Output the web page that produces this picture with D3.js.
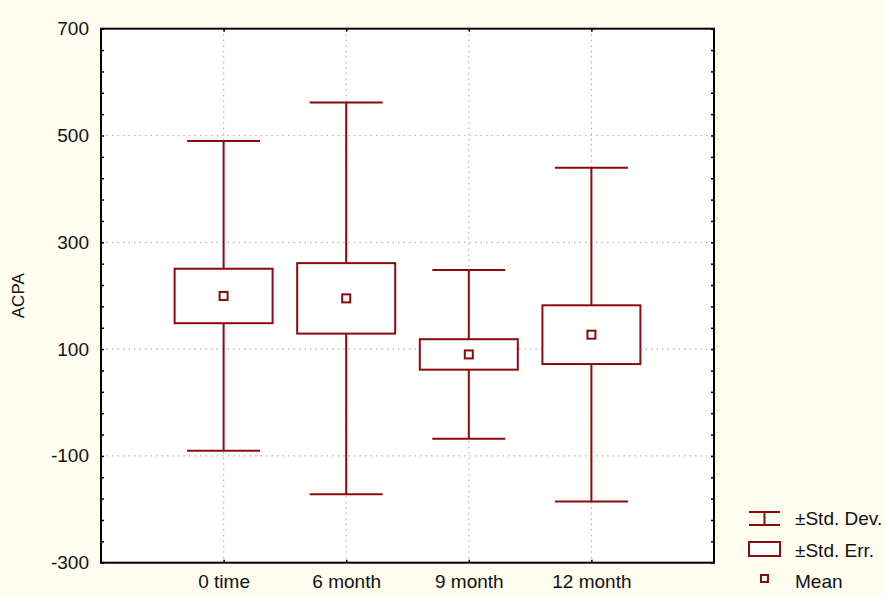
<!DOCTYPE html>
<html>
<head>
<meta charset="utf-8">
<script src="https://cdn.jsdelivr.net/npm/d3@7"></script>
<style>
  body { margin: 0; background: #fffcf0; }
  svg { display: block; font-family: "Liberation Sans", Arial, sans-serif; }
  .grid line { stroke: #b4b4b4; stroke-width: 1.2; stroke-dasharray: 1.5 4; }
  .ticks path { display: none; }
  .ticks line { stroke: #000; stroke-width: 1.5; }
  .labels path, .labels line { display: none; }
  .labels text { font-size: 19px; fill: #111; }
</style>
</head>
<body>
<svg id="chart" width="885" height="597"></svg>
<script>
// data
const categories = ['0 time', '6 month', '9 month', '12 month'];
const means      = [199.5, 195, 90, 127];
const stdErr     = [51, 66, 28.5, 55];
const stdDev     = [290, 367, 158, 312.5];
const yTicks     = [-300, -100, 100, 300, 500, 700];
const yMinor     = d3.range(-300, 701, 40);
const legendItems = ['\u00b1Std. Dev.', '\u00b1Std. Err.', 'Mean'];

const red = '#8b0a0a';
const plot = {left: 101, right: 714, top: 28.7, bottom: 562.7};

const svg = d3.select('#chart');
svg.append('rect').attr('width', 885).attr('height', 597).attr('fill', '#fffcf0');

const x = d3.scalePoint().domain(categories).range([plot.left, plot.right]).padding(1);
const y = d3.scaleLinear().domain([-300, 700]).range([plot.bottom, plot.top]);

svg.append('rect')
    .attr('x', plot.left).attr('y', plot.top)
    .attr('width', plot.right - plot.left).attr('height', plot.bottom - plot.top)
    .attr('fill', '#fff');

// dotted grid
const grid = svg.append('g').attr('class', 'grid');
grid.selectAll('.h').data(yTicks.slice(1, -1)).join('line')
    .attr('x1', plot.left).attr('x2', plot.right)
    .attr('y1', d => y(d)).attr('y2', d => y(d));
grid.selectAll('.v').data(categories).join('line')
    .attr('x1', d => x(d)).attr('x2', d => x(d))
    .attr('y1', plot.top).attr('y2', plot.bottom);

// inward ticks on all four sides
svg.append('g').attr('class', 'ticks').attr('transform', `translate(${plot.left},0)`)
    .call(d3.axisLeft(y).tickValues(yMinor).tickSize(-3).tickFormat(''));
svg.append('g').attr('class', 'ticks').attr('transform', `translate(${plot.right},0)`)
    .call(d3.axisRight(y).tickValues(yMinor).tickSize(-3).tickFormat(''));
svg.append('g').attr('class', 'ticks').attr('transform', `translate(0,${plot.bottom})`)
    .call(d3.axisBottom(x).tickSize(-3).tickFormat(''));
svg.append('g').attr('class', 'ticks').attr('transform', `translate(0,${plot.top})`)
    .call(d3.axisTop(x).tickSize(-3).tickFormat(''));

// tick labels (plain hyphen for negatives, as in the original)
svg.append('g').attr('class', 'labels').attr('transform', `translate(${plot.left},0)`)
    .call(d3.axisLeft(y).tickValues(yTicks).tickSize(0).tickPadding(12).tickFormat(d => String(d)));
svg.append('g').attr('class', 'labels').attr('transform', `translate(0,${plot.bottom})`)
    .call(d3.axisBottom(x).tickSize(0).tickPadding(12));

svg.append('text')
    .attr('transform', `translate(24,${(plot.top + plot.bottom) / 2}) rotate(-90)`)
    .attr('text-anchor', 'middle')
    .attr('font-size', 17).attr('fill', '#111')
    .text('ACPA');

// frame
svg.append('rect')
    .attr('x', plot.left).attr('y', plot.top)
    .attr('width', plot.right - plot.left).attr('height', plot.bottom - plot.top)
    .attr('fill', 'none').attr('stroke', '#000').attr('stroke-width', 2);

// boxes
const rows = categories.map((c, i) => ({c, m: means[i], se: stdErr[i], sd: stdDev[i]}));
const boxW = 98, capW = 73, markW = 8;
const g = svg.append('g').attr('stroke', red).attr('stroke-width', 2).attr('fill', '#fff');

g.selectAll('.whisker').data(rows).join('line')
    .attr('x1', d => x(d.c)).attr('x2', d => x(d.c))
    .attr('y1', d => y(d.m + d.sd)).attr('y2', d => y(d.m - d.sd));
['top', 'bot'].forEach(side => {
  g.selectAll('.cap-' + side).data(rows).join('line')
      .attr('x1', d => x(d.c) - capW / 2).attr('x2', d => x(d.c) + capW / 2)
      .attr('y1', d => y(side === 'top' ? d.m + d.sd : d.m - d.sd))
      .attr('y2', d => y(side === 'top' ? d.m + d.sd : d.m - d.sd));
});
g.selectAll('.box').data(rows).join('rect')
    .attr('x', d => x(d.c) - boxW / 2).attr('width', boxW)
    .attr('y', d => y(d.m + d.se)).attr('height', d => y(d.m - d.se) - y(d.m + d.se));
g.selectAll('.mean').data(rows).join('rect')
    .attr('x', d => x(d.c) - markW / 2).attr('y', d => y(d.m) - markW / 2)
    .attr('width', markW).attr('height', markW);

// legend
const lg = svg.append('g');
const lx = 749, lw = 31;
const sdRow = lg.append('g').attr('stroke', red).attr('stroke-width', 2);
sdRow.append('line').attr('x1', lx).attr('x2', lx + lw).attr('y1', 512).attr('y2', 512);
sdRow.append('line').attr('x1', lx).attr('x2', lx + lw).attr('y1', 525).attr('y2', 525);
sdRow.append('line').attr('x1', lx + lw / 2).attr('x2', lx + lw / 2).attr('y1', 512).attr('y2', 525);
lg.append('rect').attr('x', lx).attr('y', 542).attr('width', lw).attr('height', 14)
    .attr('fill', '#fff').attr('stroke', red).attr('stroke-width', 2);
lg.append('rect').attr('x', lx + lw / 2 - 3.5).attr('y', 575).attr('width', 7).attr('height', 7)
    .attr('fill', '#fff').attr('stroke', red).attr('stroke-width', 2);
lg.selectAll('text').data(legendItems).join('text')
    .attr('x', 795).attr('y', (d, i) => 525 + i * 31.5)
    .attr('font-size', 19).attr('fill', '#111')
    .text(d => d);
</script>
</body>
</html>
